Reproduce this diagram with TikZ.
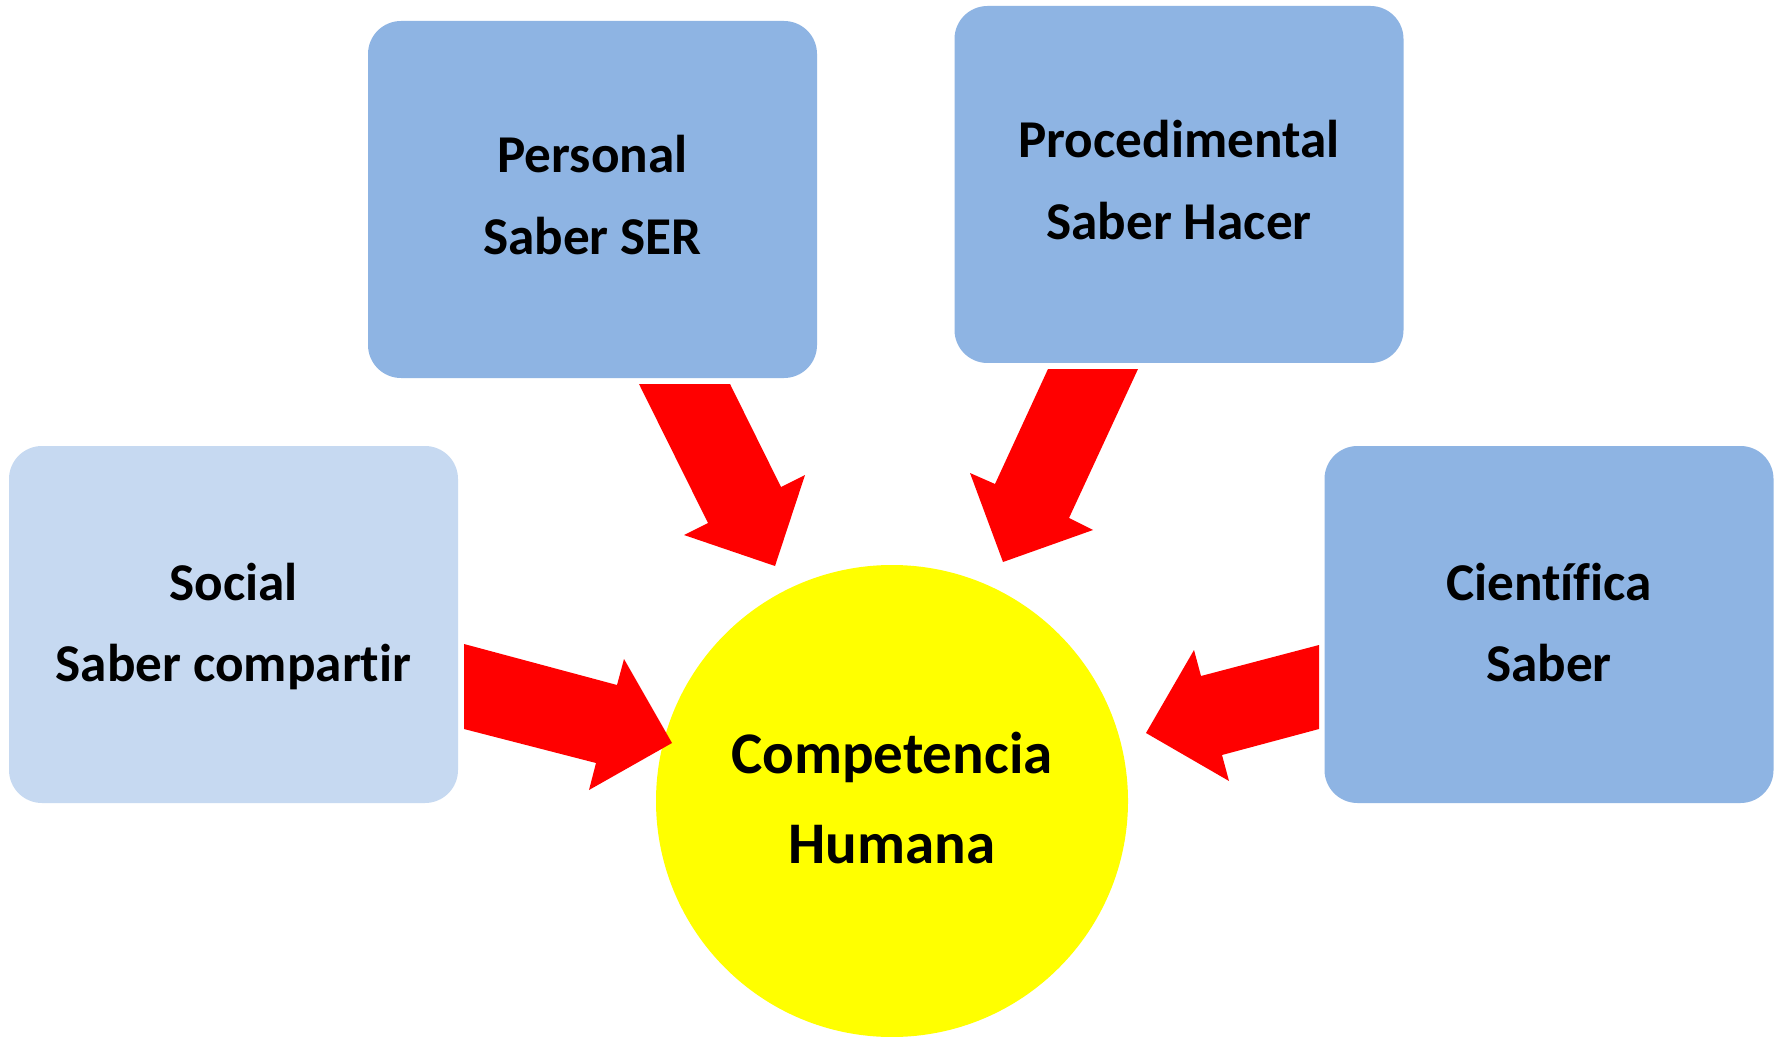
\documentclass[tikz,border=0pt]{standalone}
\usepackage{fontspec}
\setmainfont{Carlito}[Ligatures={NoCommon,NoContextual}, Contextuals=NoAlternate]
\definecolor{boxblue}{HTML}{8EB4E3}
\definecolor{boxlight}{HTML}{C6D9F1}
\definecolor{arrred}{HTML}{FF0000}
\definecolor{circyellow}{HTML}{FFFF00}
\tikzset{
  card/.style={rectangle, rounded corners=16.5pt, minimum width=224.5pt,
    minimum height=178.5pt, inner sep=0pt},
  cardtext/.style={anchor=base, inner sep=0pt, font=\fontsize{26.6}{31}\selectfont\bfseries},
  hub/.style={circle, fill=circyellow, minimum size=236pt, inner sep=0pt},
  hubtext/.style={anchor=base, inner sep=0pt, font=\fontsize{29.5}{35}\selectfont\bfseries},
  blockarrow/.style={fill=arrred, draw=none}
}
\begin{document}
\begin{tikzpicture}[x=0.5pt, y=-0.5pt]
\useasboundingbox (0,0) rectangle (1781,1037);
\fill[white] (0,0) rectangle (1781,1037);

\node[card, fill=boxblue] (personal) at (592.5,199.5) {};
\node[cardtext] (personal-a) at (592.5,173) {Personal};
\node[cardtext] (personal-b) at (592.5,255) {Saber SER};

\node[card, fill=boxblue] (procedimental) at (1179,184.5) {};
\node[cardtext] (procedimental-a) at (1179,158) {Procedimental};
\node[cardtext] (procedimental-b) at (1179,240) {Saber Hacer};

\node[card, fill=boxlight] (social) at (233.5,624.5) {};
\node[cardtext] (social-a) at (233.5,600) {Social};
\node[cardtext] (social-b) at (233.5,681) {Saber compartir};

\node[card, fill=boxblue] (cientifica) at (1549,624.5) {};
\node[cardtext] (cientifica-a) at (1549,600) {Científica};
\node[cardtext] (cientifica-b) at (1549,681) {Saber};

\node[hub] (hub) at (892,801) {};
\node[hubtext] (hub-a) at (892,773) {Competencia};
\node[hubtext] (hub-b) at (892,863) {Humana};

% block arrows
\fill[blockarrow] (639,384) -- (730,384) -- (781,487) -- (805,475) -- (775,566) -- (684,535) -- (708,523) -- cycle;
\fill[blockarrow] (1048,369) -- (1138,369) -- (1069,518) -- (1093,530) -- (1003,562) -- (970,473) -- (995,484) -- cycle;
\fill[blockarrow] (464,644) -- (617,685) -- (624,659) -- (672,743) -- (589,790) -- (596,763) -- (464,729) -- cycle;
\fill[blockarrow] (1319,645) -- (1201,676) -- (1194,650) -- (1146,733) -- (1229,781) -- (1222,755) -- (1319,729) -- cycle;
\end{tikzpicture}
\end{document}
